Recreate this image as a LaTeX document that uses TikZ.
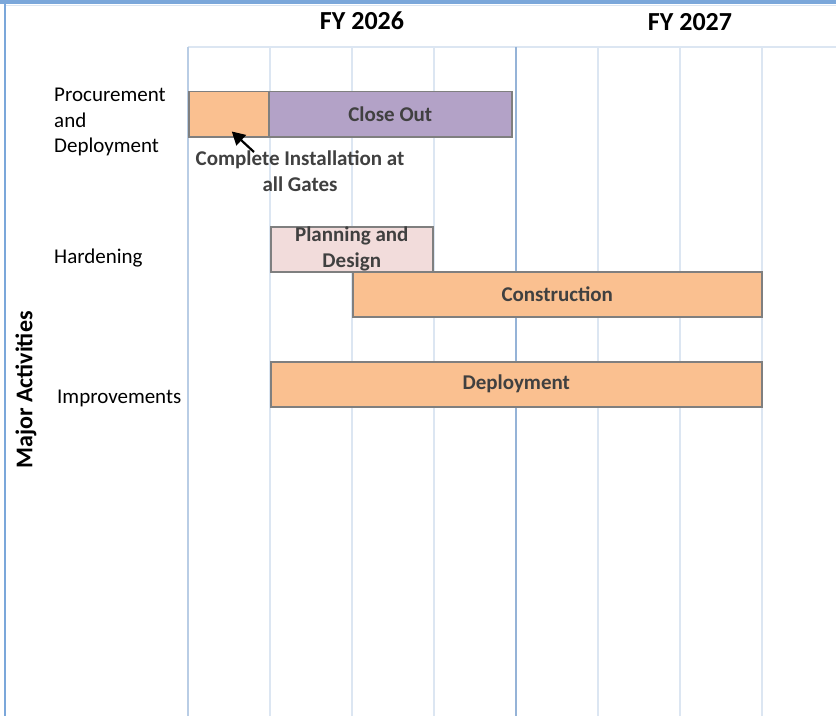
\documentclass[tikz,border=0pt]{standalone}
\usepackage{fontspec}
\setmainfont{Carlito}
\usepackage{tikz}
\usetikzlibrary{arrows.meta,positioning}
\definecolor{ganttInk}{HTML}{404040}
\definecolor{ganttEdge}{HTML}{7F7F7F}
\definecolor{ganttOrange}{HTML}{FAC090}
\definecolor{ganttPurple}{HTML}{B3A2C7}
\definecolor{ganttPink}{HTML}{F2DCDB}
\definecolor{gridLight}{HTML}{DCE6F2}
\definecolor{gridMid}{HTML}{B9CDE5}
\definecolor{gridYear}{HTML}{95B3D7}
\definecolor{frameBlue}{HTML}{7BA7DA}
\tikzset{
  ganttText/.style={font=\fontsize{21bp}{25.5bp}\selectfont},
  ganttBold/.style={font=\bfseries\fontsize{21bp}{26bp}\selectfont},
  ganttYear/.style={font=\bfseries\fontsize{26bp}{30bp}\selectfont, text=black}
}

\begin{document}
\begin{tikzpicture}[x=1bp, y=-1bp,
  bar/.style={draw=ganttEdge, line width=1.5bp, anchor=north west, inner sep=0pt,
    minimum height=45bp, ganttBold, text=ganttInk, align=center},
  rowlabel/.style={ganttText, anchor=west, align=left, inner sep=0pt, text=black},
  gridline/.style={line width=1.8bp},
  pointer/.style={-{Triangle[length=13bp,width=14bp]}, line width=2.2bp, draw=black, fill=black}
]
\useasboundingbox (0,0) rectangle (836,716);
\fill[white] (0,0) rectangle (836,716);
\draw[frameBlue, line width=4bp] (0,2) -- (836,2);
\draw[gridLight, line width=1.5bp] (6,5.5) -- (836,5.5);
\draw[frameBlue, line width=2bp] (5,0) -- (5,716);
\draw[gridLight, gridline] (188,47) -- (836,47);
\foreach \gx in {270,352,434,598,680,762}
  \draw[gridLight, gridline] (\gx,47) -- (\gx,716);
\draw[gridMid, gridline] (188,47) -- (188,716);
\draw[gridYear, gridline] (516,47) -- (516,716);
\node[ganttYear] (fy26) at (362,21) {FY 2026};
\node[ganttYear] (fy27) at (690,22) {FY 2027};
\node[rowlabel] (procLabel) at (54,122) {Procurement\\and\\Deployment};
\node[rowlabel] (hardLabel) at (54,258) {Hardening};
\node[rowlabel] (imprLabel) at (57,398) {Improvements};
\node[font=\bfseries\fontsize{24bp}{28bp}\selectfont, text=black, rotate=90]
  (axisLabel) at (26,390) {Major Activities};
\node[bar, fill=ganttOrange, minimum width=80bp] (install) at (188,91) {};
\node[bar, fill=ganttPurple, minimum width=243bp] (closeout) at (268,91) {Close Out};
\node[bar, fill=ganttPink, minimum width=162bp] (planning) at (270,226)
  {Planning and\\Design};
\node[bar, fill=ganttOrange, minimum width=409bp] (construction) at (352,271) {Construction};
\node[bar, fill=ganttOrange, minimum width=491bp] (deployment) at (270,361) {Deployment};
\node[ganttBold, text=ganttInk, align=center] (note) at (300,171)
  {Complete Installation at\\all Gates};
\coordinate (noteTail) at (254,152);
\draw[pointer] (noteTail) -- ([xshift=3bp,yshift=6bp]install.south);
\end{tikzpicture}
\end{document}
